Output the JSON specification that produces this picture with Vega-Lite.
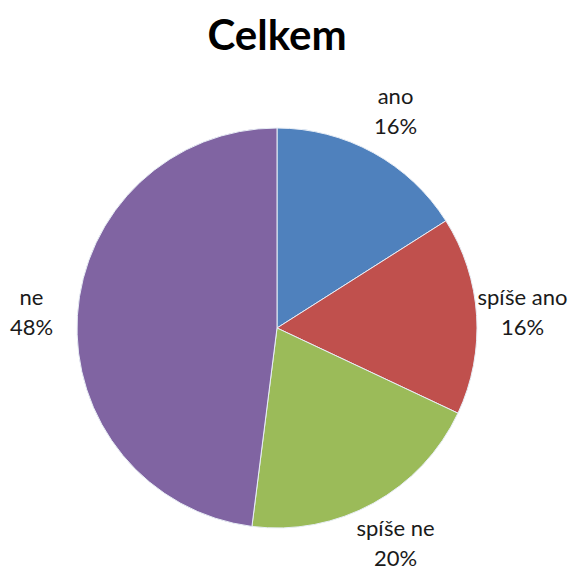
{
  "$schema": "https://vega.github.io/schema/vega-lite/v6.json",
  "autosize": "none",
  "width": 554,
  "height": 492,
  "padding": {"left": 0, "top": 82, "right": 20, "bottom": 0},
  "background": "white",
  "title": {
    "text": "Celkem",
    "anchor": "middle",
    "font": "Lato",
    "fontSize": 42,
    "fontWeight": "bold",
    "color": "#000000",
    "offset": 23
  },
  "data": {
    "values": [
      {"kategorie": "ano", "podil": 0.16, "poradi": 1},
      {"kategorie": "spíše ano", "podil": 0.16, "poradi": 2},
      {"kategorie": "spíše ne", "podil": 0.20, "poradi": 3},
      {"kategorie": "ne", "podil": 0.48, "poradi": 4}
    ]
  },
  "encoding": {
    "theta": {"field": "podil", "type": "quantitative", "stack": true},
    "order": {"field": "poradi", "type": "quantitative"}
  },
  "layer": [
    {
      "mark": {"type": "arc", "radius": 200, "stroke": "#e8eef6", "strokeWidth": 1},
      "encoding": {
        "color": {
          "field": "kategorie",
          "type": "nominal",
          "scale": {
            "domain": ["ano", "spíše ano", "spíše ne", "ne"],
            "range": ["#4F81BD", "#C0504D", "#9BBB59", "#8064A2"]
          },
          "legend": null
        }
      }
    },
    {
      "mark": {"type": "text", "radius": 246, "dy": -15, "font": "Lato", "fontSize": 22, "color": "#1a1a1a"},
      "encoding": {"text": {"field": "kategorie", "type": "nominal"}}
    },
    {
      "mark": {"type": "text", "radius": 246, "dy": 15, "font": "Lato", "fontSize": 22, "color": "#1a1a1a"},
      "encoding": {"text": {"field": "podil", "type": "quantitative", "format": ".0%"}}
    }
  ],
  "config": {"view": {"stroke": null}}
}
